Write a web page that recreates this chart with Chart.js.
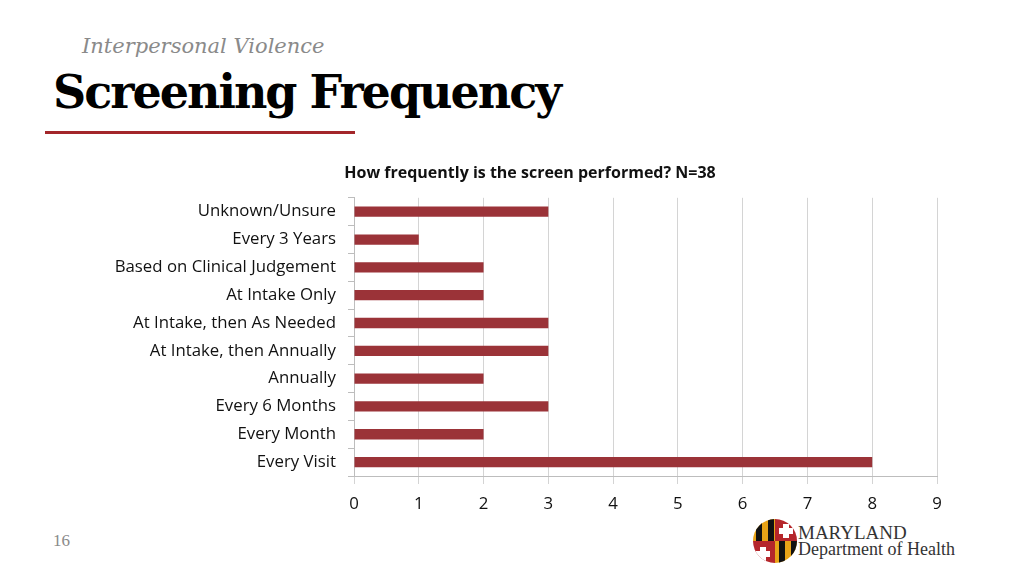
<!DOCTYPE html>
<html>
<head>
<meta charset="utf-8">
<script src="https://cdn.jsdelivr.net/npm/chart.js@4"></script>
<style>
  body { margin: 0; width: 1024px; height: 576px; background: #fff; position: relative; overflow: hidden; }
  .sub { position: absolute; left: 82px; top: 34px; font: italic 21px "DejaVu Serif", serif; color: #8a8a8a; }
  .head { position: absolute; left: 53px; top: 65px; font: bold 46px "DejaVu Serif", serif; color: #000; letter-spacing: -2px; }
  .rule { position: absolute; left: 45px; top: 131px; width: 310px; height: 3px; background: #a3262a; }
  .page { position: absolute; left: 53px; top: 531px; font: 17px "Liberation Serif", serif; color: #8a8a8a; }
  .logo { position: absolute; left: 752px; top: 518px; }
  .md1 { position: absolute; left: 798px; top: 522px; font: 19px "Liberation Serif", serif; color: #333; }
  .md2 { position: absolute; left: 798px; top: 539px; font: 18px "Liberation Serif", serif; color: #333; }
  #wrap { position: absolute; left: 44px; top: 155px; width: 972px; height: 365px; }
</style>
</head>
<body>
<div class="sub">Interpersonal Violence</div>
<div class="head">Screening Frequency</div>
<div class="rule"></div>
<div class="page">16</div>
<svg class="logo" width="46" height="46" viewBox="0 0 46 46">
  <defs><clipPath id="c"><circle cx="23" cy="23" r="22"/></clipPath></defs>
  <g clip-path="url(#c)">
    <rect x="0" y="0" width="23" height="23" fill="#e8a317"/>
    <path d="M4 0 L10 0 L10 23 L4 23 Z M16 0 L22 0 L22 23 L16 23 Z" fill="#111"/>
    <rect x="23" y="23" width="23" height="23" fill="#e8a317"/>
    <path d="M27 23 L33 23 L33 46 L27 46 Z M39 23 L45 23 L45 46 L39 46 Z" fill="#111"/>
    <rect x="23" y="0" width="23" height="23" fill="#b5262b"/>
    <rect x="0" y="23" width="23" height="23" fill="#b5262b"/>
    <path d="M31 6 h6 v4 h4 v6 h-4 v4 h-6 v-4 h-4 v-6 h4 Z" fill="#fff"/>
    <path d="M8 29 h6 v4 h4 v6 h-4 v4 h-6 v-4 h-4 v-6 h4 Z" fill="#fff"/>
  </g>
</svg>
<div class="md1">MARYLAND</div>
<div class="md2">Department of Health</div>
<div id="wrap"><canvas id="myChart"></canvas></div>
<script>
const categories = ["Unknown/Unsure", "Every 3 Years", "Based on Clinical Judgement", "At Intake Only",
  "At Intake, then As Needed", "At Intake, then Annually", "Annually", "Every 6 Months", "Every Month", "Every Visit"];
const counts = [3, 1, 2, 2, 3, 3, 2, 3, 2, 8];
const xTicks = [0, 1, 2, 3, 4, 5, 6, 7, 8, 9];

const labelFont = {family: "'Open Sans', sans-serif", size: 16.8};

new Chart("myChart", {
  type: "bar",
  data: {
    labels: categories,
    datasets: [{
      data: counts,
      backgroundColor: "#9b3338",
      categoryPercentage: 1,
      barPercentage: 0.37
    }]
  },
  options: {
    indexAxis: "y",
    responsive: true,
    maintainAspectRatio: false,
    animation: false,
    layout: {padding: 0},
    plugins: {
      legend: {display: false},
      tooltip: {enabled: false},
      title: {
        display: true,
        text: "How frequently is the screen performed? N=38",
        color: "#111",
        font: {family: "'Open Sans', sans-serif", size: 16, weight: "bold"},
        padding: {top: 9, bottom: 14.6}
      }
    },
    scales: {
      x: {
        min: 0,
        max: 9,
        afterBuildTicks: s => { s.ticks = xTicks.map(v => ({value: v})); },
        afterFit: s => { s.height = 44; },
        grid: {color: "#d4d4d4", tickLength: 8},
        border: {color: "#bdbdbd"},
        ticks: {color: "#111", font: labelFont, padding: 10}
      },
      y: {
        afterFit: s => { s.width = 310; },
        grid: {drawOnChartArea: false, color: "#bdbdbd", tickLength: 6, offset: true},
        border: {color: "#bdbdbd"},
        ticks: {color: "#111", font: labelFont, padding: 12}
      },
      // empty right-hand box that keeps the plot narrower than the title line
      spacer: {
        axis: "y",
        position: "right",
        afterFit: s => { s.width = 79; },
        grid: {display: false},
        border: {display: false},
        ticks: {display: false}
      }
    }
  }
});
</script>
</body>
</html>
